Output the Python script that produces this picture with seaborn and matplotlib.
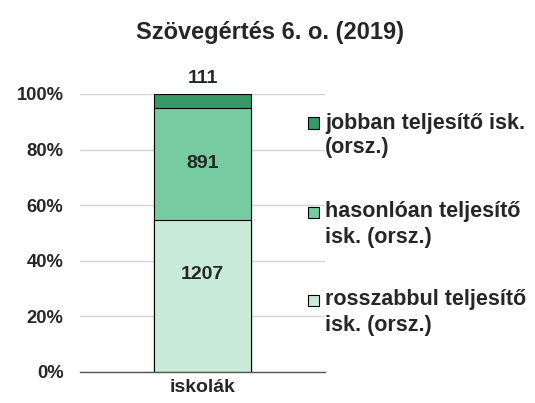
import numpy as np
import pandas as pd
import matplotlib
matplotlib.use("Agg")
import matplotlib.pyplot as plt
from matplotlib.patches import Rectangle
import seaborn as sns

# ==========================================
# DATA
# ==========================================
category = ["iskolák"]
series = ["rosszabbul teljesítő\nisk. (orsz.)",
          "hasonlóan teljesítő\nisk. (orsz.)",
          "jobban teljesítő isk.\n(orsz.)"]
counts = [1207, 891, 111]
colors = ["#c8ead9", "#76cca0", "#379868"]
title = "Szövegértés 6. o. (2019)"

# ==========================================
# PLOT
# ==========================================
sns.set_theme(style="white")
plt.rcParams["font.family"] = ["Liberation Sans", "DejaVu Sans"]

shares = np.array(counts) / np.sum(counts) * 100
cum = np.cumsum(shares)

W, H = 535, 403
fig = plt.figure(figsize=(W / 100, H / 100), dpi=100)
ax = fig.add_axes([0.150, 0.077, 0.457, 0.690])

# stacked bar: draw cumulative heights from the top layer down
for i in range(len(series) - 1, -1, -1):
    df = pd.DataFrame({"cat": category, "val": [cum[i]]})
    sns.barplot(data=df, x="cat", y="val", color=colors[i], width=0.8,
                edgecolor="black", linewidth=0.8, ax=ax, saturation=1)

ax.set_xlim(-1, 1)
ax.set_ylim(0, 100)
ax.set_yticks(np.arange(0, 101, 20))
ax.set_yticklabels([f"{v}%" for v in range(0, 101, 20)], fontsize=13.2, fontweight="bold")
ax.yaxis.grid(True, color="#d4d4d4", linewidth=1)
ax.set_axisbelow(True)
ax.tick_params(axis="y", length=0, pad=12)
ax.tick_params(axis="x", which="major", length=0, pad=5)
ax.set_xticks([-1, 1], minor=True)
ax.tick_params(axis="x", which="minor", length=4, color="#555555", width=1)
for lbl in ax.get_xticklabels():
    lbl.set_fontweight("bold")
    lbl.set_fontsize(14)
ax.set_xlabel("")
ax.set_ylabel("")
for s in ["left", "right", "top"]:
    ax.spines[s].set_visible(False)
ax.spines["bottom"].set_color("#555555")
ax.spines["bottom"].set_linewidth(1)

# value labels
starts = np.concatenate([[0], cum[:-1]])
ax.text(0, starts[0] + shares[0] * 0.64, str(counts[0]), ha="center", va="center",
        fontsize=14, fontweight="bold")
ax.text(0, starts[1] + shares[1] / 2, str(counts[1]), ha="center", va="center",
        fontsize=14, fontweight="bold")
ax.text(0, cum[2] + 2.5, str(counts[2]), ha="center", va="bottom",
        fontsize=14, fontweight="bold", clip_on=False)

fig.text(0.505, 1 - 33 / H, title, ha="center", va="center", fontsize=17, fontweight="bold")

# legend (top layer first), square aligned with the first text line
row_y = [123, 212, 300]
for k, i in enumerate(range(len(series) - 1, -1, -1)):
    y = row_y[k]
    fig.patches.append(Rectangle((308 / W, 1 - (y + 5.5) / H), 11 / W, 11 / H,
                                 transform=fig.transFigure, facecolor=colors[i],
                                 edgecolor="black", linewidth=0.8))
    for j, line in enumerate(series[i].split("\n")):
        fig.text(325 / W, 1 - (y + 25 * j) / H, line, ha="left", va="center",
                 fontsize=15.5, fontweight="bold")

plt.savefig("out.png", dpi=100)
